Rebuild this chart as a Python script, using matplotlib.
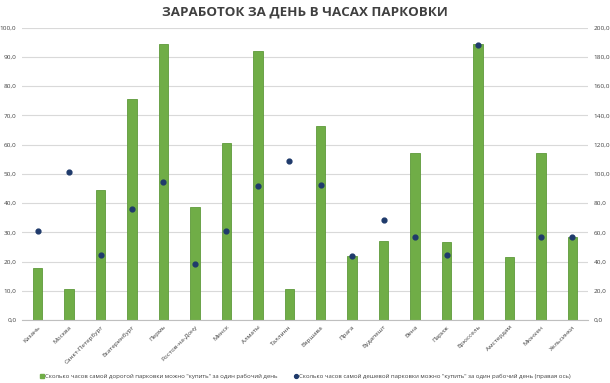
import numpy as np
import matplotlib.pyplot as plt

cities = ['Казань', 'Москва', 'Санкт-Петербург', 'Екатеринбург', 'Пермь', 'Ростов-на-Дону',
          'Минск', 'Алматы', 'Таллинн', 'Варшава', 'Прага', 'Будапешт', 'Вена', 'Париж',
          'Брюссель', 'Амстердам', 'Мюнхен', 'Хельсинки']
expensive = [18.0, 10.5, 44.5, 75.7, 94.3, 38.6, 60.5, 91.9, 10.7, 66.3, 21.9, 27.0,
             57.0, 26.7, 94.4, 21.7, 57.0, 28.5]
cheap = [60.7, 101.4, 44.7, 76.0, 94.2, 38.4, 60.7, 91.8, 108.6, 92.7, 43.8, 68.2,
         57.0, 44.7, 188.0, np.nan, 57.0, 57.0]

label_bar = 'Сколько часов самой дорогой парковки можно "купить" за один рабочий день'
label_dot = 'Сколько часов самой дешевой парковки можно "купить" за один рабочий день (правая ось)'

plt.rcParams['font.family'] = ['Open Sans', 'DejaVu Sans']

fig = plt.figure(figsize=(6.1, 3.83), dpi=100)
ax = fig.add_axes([0.036, 0.164, 0.928, 0.764])
ax2 = ax.twinx()

x = np.arange(len(cities))
ax.bar(x, expensive, width=0.3, color='#70AD47', edgecolor='#5E9A3A', linewidth=0.6, zorder=2)
ax2.scatter(x, cheap, s=12, color='#1F3A6B', zorder=3)

ax.set_ylim(0, 100)
ax2.set_ylim(0, 200)
ax.set_xlim(-0.5, len(cities) - 0.5)
ax.set_yticks(np.arange(0, 101, 10))
ax2.set_yticks(np.arange(0, 201, 20))
ax.set_yticklabels([f'{v:.1f}'.replace('.', ',') for v in np.arange(0, 101, 10)])
ax2.set_yticklabels([f'{v:.1f}'.replace('.', ',') for v in np.arange(0, 201, 20)])
ax.grid(axis='y', color='#D9D9D9', linewidth=0.8, zorder=0)
ax.set_axisbelow(True)

ax.set_xticks(x)
ax.set_xticklabels(cities, rotation=45, ha='right', rotation_mode='anchor', fontsize=4.6, color='#404040')
for a in (ax, ax2):
    for s in a.spines.values():
        s.set_visible(False)
    a.tick_params(length=0, labelsize=4.6, labelcolor='#404040')
ax.spines['bottom'].set_visible(True)
ax.spines['bottom'].set_color('#BFBFBF')
ax.tick_params(axis='y', pad=4)
ax.tick_params(axis='x', pad=3)
ax2.tick_params(axis='y', pad=4)

fig.text(0.5, 0.968, 'ЗАРАБОТОК ЗА ДЕНЬ В ЧАСАХ ПАРКОВКИ', ha='center', va='center',
         fontsize=9.6, fontweight='bold', color='#404040')

h1 = plt.Line2D([], [], marker='s', linestyle='', color='#70AD47', markersize=3.5)
h2 = plt.Line2D([], [], marker='o', linestyle='', color='#1F3A6B', markersize=2.8)
fig.legend([h1, h2], [label_bar, label_dot], loc='center', bbox_to_anchor=(0.5, 0.017),
           ncol=2, frameon=False, fontsize=4.3, handletextpad=0.1, columnspacing=2.5,
           handlelength=1.0, labelcolor='#404040')

fig.savefig('out.png', dpi=100)
